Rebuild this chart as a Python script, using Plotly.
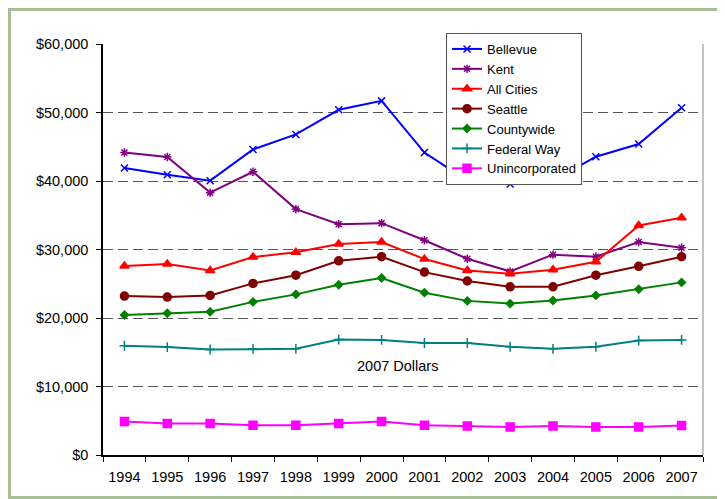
import plotly.graph_objects as go

years = [str(y) for y in range(1994, 2008)]
bellevue = [41900, 40900, 40050, 44600, 46800, 50400, 51700, 44150, 40050, 39550, 40050, 43550, 45400, 50700]
kent = [44150, 43500, 38300, 41350, 35900, 33700, 33850, 31350, 28650, 26800, 29250, 28950, 31100, 30250]
all_cities = [27600, 27900, 26950, 28900, 29600, 30800, 31100, 28600, 26950, 26450, 27050, 28200, 33500, 34650]
seattle = [23200, 23050, 23300, 25050, 26250, 28350, 28950, 26700, 25400, 24550, 24550, 26250, 27550, 28950]
countywide = [20450, 20700, 20900, 22350, 23450, 24850, 25850, 23700, 22500, 22100, 22550, 23300, 24200, 25200]
federal_way = [15950, 15750, 15400, 15500, 15500, 16850, 16800, 16350, 16350, 15800, 15500, 15800, 16700, 16800]
unincorporated = [4900, 4600, 4600, 4350, 4350, 4600, 4900, 4350, 4250, 4100, 4250, 4100, 4100, 4300]
y_ticks = [0, 10000, 20000, 30000, 40000, 50000, 60000]
y_tick_labels = ["$0", "$10,000", "$20,000", "$30,000", "$40,000", "$50,000", "$60,000"]

series = [
    ("Bellevue", bellevue, "#0000ff", "x-thin-open", 7),
    ("Kent", kent, "#800080", "asterisk-open", 7),
    ("All Cities", all_cities, "#ff0000", "triangle-up", 8),
    ("Seattle", seattle, "#800000", "circle", 8),
    ("Countywide", countywide, "#008000", "diamond", 6),
    ("Federal Way", federal_way, "#008080", "cross-thin-open", 7),
    ("Unincorporated", unincorporated, "#ff00ff", "square", 8),
]

fig = go.Figure()
for name, vals, color, sym, size in series:
    fig.add_trace(go.Scatter(
        x=years, y=vals, name=name, mode="lines+markers",
        line=dict(color=color, width=2),
        marker=dict(symbol=sym, size=size, color=color,
                    line=dict(color=color, width=1.5)),
    ))

fig.update_layout(
    width=717, height=491,
    margin=dict(l=95, r=22, t=36, b=44, autoexpand=False),
    paper_bgcolor="white", plot_bgcolor="white",
    font=dict(family="Liberation Sans, Arial, sans-serif", size=14.5, color="black"),
    showlegend=True,
    legend=dict(
        x=0.5717, y=1.0268, xanchor="left", yanchor="top",
        bgcolor="white", bordercolor="#555555", borderwidth=1,
        font=dict(size=13), tracegroupgap=0, itemwidth=30,
    ),
    annotations=[dict(
        text="2007 Dollars", xref="paper", yref="y", x=0.49, y=13000,
        showarrow=False, font=dict(size=14.5, color="black"),
    )],
    shapes=[
        dict(type="rect", xref="paper", yref="paper",
             x0=-0.1558, x1=1.06, y0=-0.1034, y1=1.0839,
             line=dict(color="#a8bf96", width=3), layer="below"),
        dict(type="line", xref="paper", yref="paper",
             x0=1, x1=1, y0=0, y1=1,
             line=dict(color="#888888", width=1)),
    ],
)

fig.update_xaxes(
    type="category", range=[-0.5, 13.5], showgrid=False, showline=True,
    linecolor="black", linewidth=1.5, ticks="outside", tickson="boundaries",
    ticklen=5, tickcolor="black", tickangle=0, ticklabelstandoff=8,
    zeroline=False,
)
fig.update_yaxes(
    range=[0, 60000], tickvals=y_ticks, ticktext=y_tick_labels,
    showgrid=True, gridcolor="#555555", griddash="10px,5px", gridwidth=1,
    showline=True, linecolor="black", linewidth=1.5, ticks="outside",
    ticklen=5, tickcolor="black", ticklabelstandoff=5, zeroline=False,
)

fig.write_html("out.html")
